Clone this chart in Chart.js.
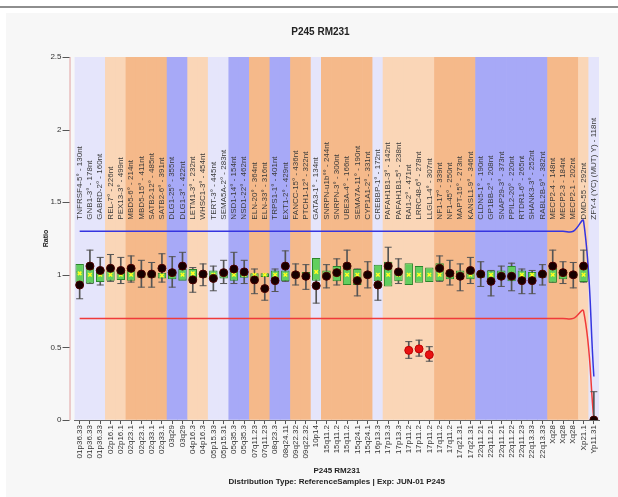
<!DOCTYPE html>
<html>
<head>
<meta charset="utf-8">
<script src="https://cdn.jsdelivr.net/npm/chart.js@4.4.1/dist/chart.umd.min.js"></script>
<style>
  html, body { margin: 0; padding: 0; background: #fff; }
  body { width: 618px; height: 497px; position: relative; overflow: hidden; }
  #rule { position: absolute; left: 0; top: 6px; width: 618px; height: 2px; background: #8e8e8e; }
  #panel { position: absolute; left: 6px; top: 13px; right: 0; bottom: 0; background: #f7f7f7; }
  #wrap { position: absolute; left: 0; top: 0; width: 618px; height: 497px; }
</style>
</head>
<body>
<div id="rule"></div>
<div id="panel"></div>
<div id="wrap"><canvas id="ratioChart"></canvas></div>
<script>
const probeNames = [
  "TNFRSF4-5° - 130nt", "GNB1-3° - 178nt", "GABRD-2° - 160nt", "REL-7° - 226nt", "PEX13-3° - 499nt",
  "MBD5-6° - 214nt", "MBD5-15° - 411nt", "SATB2-12° - 485nt", "SATB2-6° - 391nt", "DLG1-25° - 355nt",
  "DLG1-3° - 422nt", "LETM1-3° - 232nt", "WHSC1-3° - 454nt", "TERT-3° - 445nt", "SEMA5A-2° - 283nt",
  "NSD1-14° - 154nt", "NSD1-22° - 462nt", "ELN-20° - 364nt", "ELN-33° - 316nt", "TRPS1-1° - 401nt",
  "EXT1-2° - 429nt", "FANCC-15° - 436nt", "PTCH1-12° - 322nt", "GATA3-1° - 134nt", "SNRPN-u1b°° - 244nt",
  "SNRPN-3° - 300nt", "UBE3A-4° - 166nt", "SEMA7A-11° - 190nt", "CYP1A1-2° - 331nt", "CREBBP-1° - 172nt",
  "PAFAH1B1-3° - 142nt", "PAFAH1B1-5° - 238nt", "RAI1-2° - 471nt", "LRRC48-6° - 278nt", "LLGL1-4° - 307nt",
  "NF1-17° - 339nt", "NF1-45° - 250nt", "MAPT-15° - 273nt", "KANSL1-9° - 346nt", "CLDN5-1° - 190nt",
  "GP1BB-2° - 208nt", "SNAP29-3° - 373nt", "PPIL2-20° - 220nt", "RTDR1-6° - 265nt", "SHANK3-3° - 252nt",
  "RABL2B-9° - 382nt", "MECP2-4 - 148nt", "MECP2-3 - 184nt", "MECP2-1 - 202nt", "DMD-55 - 292nt",
  "ZFY-4 (YC) (MUT) Y) - 118nt"
];
const bands = [
  "01p36.33", "01p36.33", "01p36.33", "02p16.1", "02p16.1", "02q23.1", "02q23.1", "02q33.1", "02q33.1",
  "03q29", "03q29", "04p16.3", "04p16.3", "05p15.33", "05p15.31", "05q35.3", "05q35.3", "07q11.23",
  "07q11.23", "08q23.3", "08q24.11", "09q22.32", "09q22.32", "10p14", "15q11.2", "15q11.2", "15q11.2",
  "15q24.1", "15q24.1", "16p13.3", "17p13.3", "17p13.3", "17p11.2", "17p11.2", "17p11.2", "17q11.2",
  "17q11.2", "17q21.31", "17q21.31", "22q11.21", "22q11.21", "22q11.21", "22q11.22", "22q11.23",
  "22q13.33", "22q13.33", "Xq28", "Xq28", "Xq28", "Xp21.1", "Yp11.31"
];
// L lavender, P peach, O orange, B blue
const bandTone = [
  "L", "L", "L", "P", "P", "O", "O", "O", "O", "B", "B", "P", "P", "L", "L", "B", "B", "O", "O",
  "B", "B", "O", "O", "L", "O", "O", "O", "O", "O", "L", "P", "P", "P", "P", "P", "O", "O", "O",
  "O", "B", "B", "B", "B", "B", "B", "B", "O", "O", "O", "P", "L"
];
const sampleRatio = [
  0.93, 1.06, 1.03, 1.045, 1.03, 1.045, 1.005, 1.005, 1.045, 1.015, 1.06, 0.965, 1.005, 0.975, 1.015,
  1.04, 1.02, 0.965, 0.905, 0.96, 1.06, 1.0, 0.99, 0.925, 0.99, 1.015, 1.06, 0.96, 1.0, 0.93,
  1.06, 1.02, 0.48, 0.49, 0.45, 1.045, 1.01, 0.99, 1.03, 1.005, 0.955, 0.99, 0.99, 0.96, 0.96,
  1.005, 1.06, 1.015, 1.0, 1.06, 0.0
];
const errLow = [
  0.835, 0.94, 0.93, 0.955, 0.94, 0.95, 0.915, 0.915, 0.95, 0.915, 0.97, 0.88, 0.925, 0.89, 0.94,
  0.94, 0.94, 0.87, 0.825, 0.885, 0.955, 0.93, 0.9, 0.805, 0.91, 0.93, 0.95, 0.855, 0.91, 0.825,
  0.95, 0.94, 0.425, 0.44, 0.405, 0.955, 0.93, 0.89, 0.94, 0.92, 0.855, 0.92, 0.89, 0.87, 0.87,
  0.93, 0.95, 0.94, 0.91, 0.95, 0.0
];
const errHigh = [
  1.02, 1.17, 1.12, 1.14, 1.12, 1.13, 1.1, 1.085, 1.145, 1.125, 1.155, 1.05, 1.075, 1.06, 1.1,
  1.155, 1.1, 1.04, 0.99, 1.04, 1.165, 1.075, 1.07, 1.03, 1.07, 1.11, 1.17, 1.04, 1.09, 1.04,
  1.19, 1.11, 0.54, 0.55, 0.505, 1.13, 1.1, 1.075, 1.12, 1.09, 1.03, 1.06, 1.08, 1.04, 1.03,
  1.07, 1.17, 1.09, 1.085, 1.17, 0.195
];
const boxLow = [
  0.945, 0.94, 0.95, 0.96, 0.965, 0.96, 0.98, 0.98, 0.975, 0.97, 0.96, 0.97, 0.98, 0.97, 0.975,
  0.96, 0.98, 0.975, 0.985, 0.97, 0.955, 0.98, 0.975, 0.96, 0.975, 0.955, 0.93, 0.93, 0.98, 0.955,
  0.92, 0.955, 0.93, 0.945, 0.95, 0.955, 0.97, 0.97, 0.97, 0.98, 0.96, 0.97, 0.955, 0.97, 0.97,
  0.98, 0.945, 0.97, 0.98, 0.95, null
];
const boxHigh = [
  1.075, 1.055, 1.04, 1.03, 1.03, 1.04, 1.02, 1.02, 1.015, 1.035, 1.04, 1.04, 1.02, 1.03, 1.03,
  1.04, 1.02, 1.01, 1.01, 1.03, 1.03, 1.02, 1.02, 1.115, 1.03, 1.06, 1.08, 1.04, 1.02, 1.07,
  1.09, 1.03, 1.08, 1.06, 1.05, 1.08, 1.03, 1.03, 1.035, 1.02, 1.03, 1.03, 1.06, 1.03, 1.02,
  1.02, 1.05, 1.035, 1.02, 1.05, null
];
const boxMedian = [
  1.01, 1.0, 1.0, 1.0, 1.0, 1.0, 1.0, 1.0, 0.995, 1.0, 1.0, 1.01, 1.0, 1.0, 1.0,
  1.0, 1.0, 1.0, 1.0, 1.0, 1.0, 1.0, 1.0, 1.02, 1.0, 1.0, 1.0, 1.0, 1.0, 1.0,
  1.0, 1.0, 1.0, 1.0, 1.0, 1.0, 1.0, 1.0, 1.0, 1.0, 1.0, 1.0, 1.0, 1.0, 1.0,
  1.0, 1.0, 1.0, 1.0, 1.0, null
];
const upperLimit = [
  1.3, 1.3, 1.3, 1.3, 1.3, 1.3, 1.3, 1.3, 1.3, 1.3, 1.3, 1.3, 1.3, 1.3, 1.3, 1.3, 1.3,
  1.3, 1.3, 1.3, 1.3, 1.3, 1.3, 1.3, 1.3, 1.3, 1.3, 1.3, 1.3, 1.3, 1.3, 1.3, 1.3, 1.3,
  1.3, 1.3, 1.3, 1.3, 1.3, 1.3, 1.3, 1.3, 1.3, 1.3, 1.3, 1.3, 1.3, 1.3, 1.3, 1.37, 0.3
];
const lowerLimit = [
  0.7, 0.7, 0.7, 0.7, 0.7, 0.7, 0.7, 0.7, 0.7, 0.7, 0.7, 0.7, 0.7, 0.7, 0.7, 0.7, 0.7,
  0.7, 0.7, 0.7, 0.7, 0.7, 0.7, 0.7, 0.7, 0.7, 0.7, 0.7, 0.7, 0.7, 0.7, 0.7, 0.7, 0.7,
  0.7, 0.7, 0.7, 0.7, 0.7, 0.7, 0.7, 0.7, 0.7, 0.7, 0.7, 0.7, 0.7, 0.7, 0.7, 0.75, 0.0
];
const yMax = 2.5;
const yStep = 0.5;

const toneColors = { L: "#e5e5fb", P: "#fad6b7", O: "#f5b98a", B: "#a7a9f7" };
const fontFamily = "'Liberation Sans', Arial, sans-serif";
const isOut = (v, i) => v < lowerLimit[i] || v > upperLimit[i];

// probe names stand upright inside the plot, above the data
const probeLabels = {
  id: "probeLabels",
  afterDatasetsDraw(chart) {
    const { ctx, scales: { x, y } } = chart;
    const base = y.getPixelForValue(1.38);
    ctx.save();
    ctx.font = "8px " + fontFamily;
    ctx.fillStyle = "#3a3a3a";
    ctx.textAlign = "left";
    ctx.textBaseline = "middle";
    probeNames.forEach((name, i) => {
      ctx.save();
      ctx.translate(x.getPixelForValue(i), base);
      ctx.rotate(-Math.PI / 2);
      ctx.fillText(name, 0, 0);
      ctx.restore();
    });
    ctx.restore();
  }
};

// the y axis line sits a few pixels left of the plot
const yAxisLine = {
  id: "yAxisLine",
  afterDraw(chart) {
    const { ctx, chartArea, scales: { y } } = chart;
    const ax = chartArea.left - 5;
    ctx.save();
    ctx.lineWidth = 1;
    ctx.strokeStyle = "#e0a0a0";
    ctx.beginPath();
    ctx.moveTo(ax + 0.5, chartArea.top);
    ctx.lineTo(ax + 0.5, chartArea.bottom);
    ctx.stroke();
    ctx.strokeStyle = "#555";
    ctx.beginPath();
    y.ticks.forEach(t => {
      const py = Math.round(y.getPixelForValue(t.value)) + 0.5;
      ctx.moveTo(ax - 7, py);
      ctx.lineTo(ax, py);
    });
    ctx.stroke();
    ctx.restore();
  }
};

const ctx = document.getElementById("ratioChart");
new Chart(ctx, {
  type: "bar",
  data: {
    labels: bands,
    datasets: [
      {
        type: "line",
        data: sampleRatio,
        showLine: false,
        pointRadius: 4,
        pointBackgroundColor: sampleRatio.map((v, i) => isOut(v, i) ? "#e81212" : "#160000"),
        pointBorderColor: sampleRatio.map((v, i) => isOut(v, i) ? "#c00000" : "#4a0000"),
        pointBorderWidth: 1,
        order: 1
      },
      {
        type: "line",
        data: boxMedian,
        showLine: false,
        pointStyle: "crossRot",
        pointRadius: 2.5,
        pointBorderColor: "#ffff20",
        pointBorderWidth: 1.5,
        order: 2
      },
      {
        type: "bar",
        data: boxLow.map((v, i) => v === null ? null : [v, boxHigh[i]]),
        backgroundColor: "#62cf5e",
        borderColor: "#2b862b",
        borderWidth: 1,
        borderSkipped: false,
        grouped: false,
        barPercentage: 0.82,
        categoryPercentage: 1,
        order: 3
      },
      {
        type: "line",
        data: errHigh,
        showLine: false,
        pointStyle: "line",
        pointRadius: 3.5,
        pointBorderColor: "#555",
        pointBorderWidth: 1,
        order: 4
      },
      {
        type: "line",
        data: errLow,
        showLine: false,
        pointStyle: "line",
        pointRadius: 3.5,
        pointBorderColor: "#555",
        pointBorderWidth: 1,
        order: 4
      },
      {
        type: "bar",
        data: errLow.map((v, i) => [v, errHigh[i]]),
        backgroundColor: "#555",
        barThickness: 1,
        grouped: false,
        order: 5
      },
      {
        type: "line",
        data: upperLimit,
        borderColor: "#3535e0",
        borderWidth: 1.5,
        pointRadius: 0,
        tension: 0.4,
        order: 6
      },
      {
        type: "line",
        data: lowerLimit,
        borderColor: "#f03a3a",
        borderWidth: 1.5,
        pointRadius: 0,
        tension: 0.4,
        order: 7
      },
      {
        type: "bar",
        data: bands.map(() => [0, yMax]),
        backgroundColor: bandTone.map(t => toneColors[t]),
        borderWidth: 0,
        grouped: false,
        barPercentage: 1,
        categoryPercentage: 1,
        order: 10
      }
    ]
  },
  options: {
    responsive: true,
    maintainAspectRatio: false,
    animation: false,
    layout: { padding: { top: 22, left: 42, right: 19, bottom: 10 } },
    plugins: {
      legend: { display: false },
      tooltip: { enabled: false },
      title: {
        display: true,
        text: "P245 RM231",
        color: "#222",
        font: { family: fontFamily, size: 10, weight: "bold" },
        padding: { top: 4, bottom: 19 }
      }
    },
    scales: {
      x: {
        type: "category",
        offset: true,
        grid: { display: true, drawOnChartArea: false, offset: false, tickLength: 4, color: "#555" },
        border: { color: "#666" },
        ticks: {
          autoSkip: false,
          maxRotation: 90,
          minRotation: 90,
          padding: 1,
          color: "#333",
          font: { family: fontFamily, size: 8 }
        },
        title: {
          display: true,
          text: ["P245 RM231", "Distribution Type: ReferenceSamples | Exp: JUN-01 P245"],
          color: "#222",
          font: { family: fontFamily, size: 8, weight: "bold", lineHeight: 1.35 },
          padding: { top: 6, bottom: 0 }
        }
      },
      y: {
        type: "linear",
        min: 0,
        max: yMax,
        ticks: {
          stepSize: yStep,
          color: "#333",
          padding: 0,
          font: { family: fontFamily, size: 8 },
          callback: v => String(v)
        },
        grid: { display: true, drawOnChartArea: false, drawTicks: true, tickLength: 13, color: "rgba(0,0,0,0)" },
        border: { display: false },
        title: {
          display: true,
          text: "Ratio",
          color: "#222",
          font: { family: fontFamily, size: 7, weight: "bold" },
          padding: { top: 0, bottom: 0 }
        }
      }
    }
  },
  plugins: [probeLabels, yAxisLine]
});
</script>
</body>
</html>
